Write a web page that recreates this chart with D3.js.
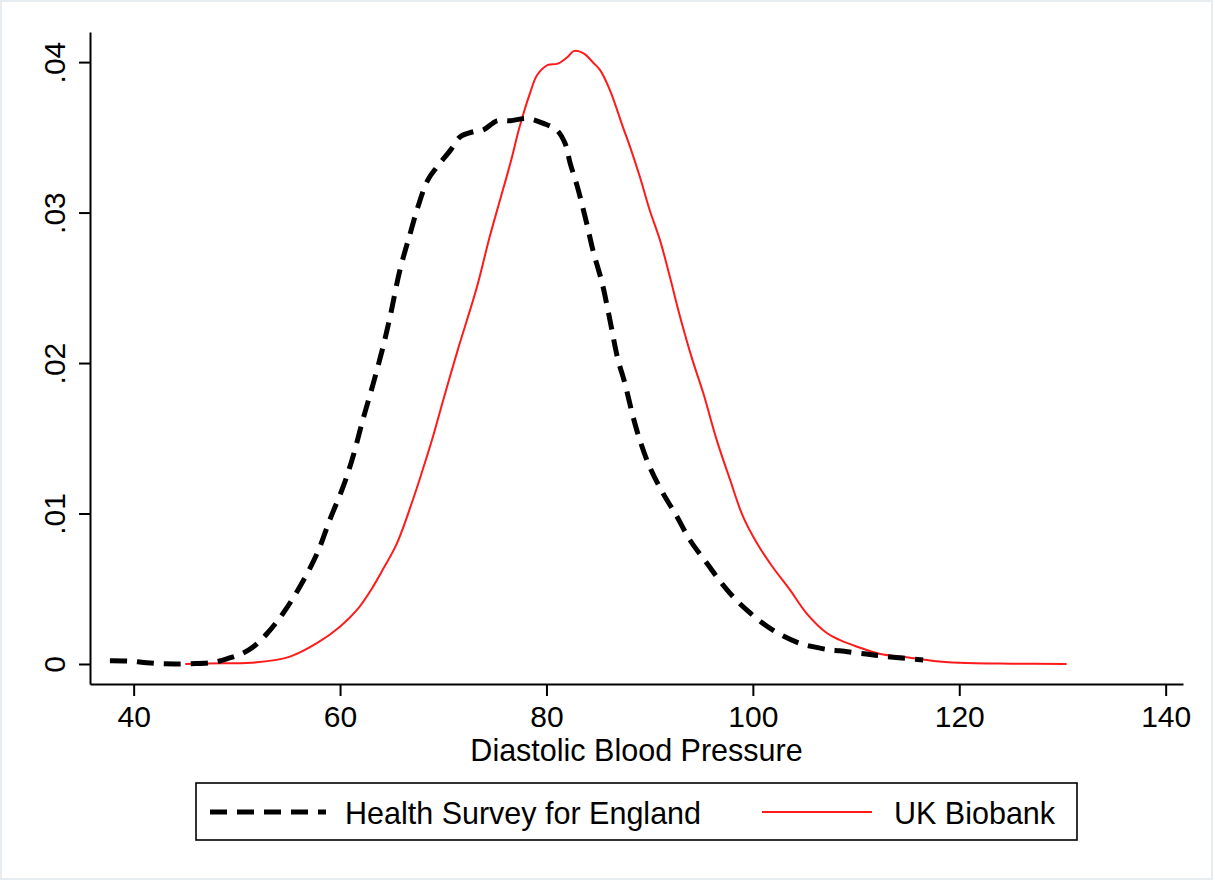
<!DOCTYPE html>
<html>
<head>
<meta charset="utf-8">
<script src="https://cdn.jsdelivr.net/npm/d3@7"></script>
<style>
  html, body { margin: 0; padding: 0; background: #ffffff; }
  svg { display: block; }
  text { font-family: "Liberation Sans", Arial, Helvetica, sans-serif; fill: #000; }
</style>
</head>
<body>
<svg id="chart" width="1215" height="881"></svg>
<script>
// ---- data ----
const seriesNames = ["Health Survey for England", "UK Biobank"];

const hseBP = [37.7, 39.5, 41.0, 42.5, 44.0, 45.5, 47.7, 49.3, 50.6, 51.6, 52.95, 54.5, 56.2, 57.8, 59.0, 60.3, 61.25, 62.2, 63.2, 64.1, 64.85, 65.8, 66.8, 67.55, 68.5, 69.4, 70.7, 71.65, 72.9, 73.85, 75.2, 76.5, 78.1, 79.7, 81.0, 81.8, 82.3, 83.0, 83.9, 84.5, 85.4, 86.15, 86.9, 87.6, 88.4, 89.05, 90.0, 91.3, 92.65, 93.9, 95.55, 97.5, 99.4, 101.9, 104.5, 105.8, 107.5, 108.4, 111.0, 113.6, 116.5];
const hseDensity = [0.00022, 0.0002, 0.0001, 0.00002, 0.0, 0.00002, 0.0001, 0.0004, 0.00073, 0.00115, 0.00204, 0.00339, 0.00525, 0.00738, 0.00957, 0.01178, 0.01377, 0.01621, 0.0186, 0.0209, 0.02308, 0.02618, 0.02862, 0.03039, 0.03216, 0.03304, 0.03415, 0.03504, 0.03537, 0.03548, 0.0361, 0.0361, 0.03626, 0.03593, 0.03548, 0.0346, 0.03327, 0.03171, 0.02928, 0.02751, 0.0253, 0.02286, 0.02031, 0.01865, 0.01641, 0.01488, 0.0131, 0.01134, 0.00979, 0.00824, 0.00669, 0.00492, 0.00359, 0.00226, 0.00138, 0.00115, 0.00093, 0.00088, 0.00066, 0.00045, 0.00027];

const ukbBP = [45.0, 48.65, 51.95, 55.15, 57.75, 59.99, 61.64, 63.2, 64.0, 65.5, 67.05, 68.0, 69.0, 70.0, 71.4, 72.3, 73.27, 74.5, 75.5, 76.5, 77.4, 78.4, 79.1, 80.1, 81.1, 82.07, 82.65, 83.6, 84.6, 85.2, 86.15, 87.4, 88.1, 89.05, 90.0, 91.0, 91.96, 92.9, 94.1, 95.2, 96.5, 97.8, 99.05, 100.4, 101.9, 103.6, 105.2, 107.2, 108.4, 110.1, 112.35, 114.9, 117.5, 120.0, 125.0, 130.4];
const ukbDensity = [0.0, 0.00005, 0.00011, 0.00049, 0.00138, 0.00248, 0.00359, 0.00514, 0.0061, 0.008, 0.0109, 0.01289, 0.0151, 0.01754, 0.02086, 0.02286, 0.02507, 0.02839, 0.03083, 0.03327, 0.0357, 0.03792, 0.03914, 0.0398, 0.0399, 0.04035, 0.04073, 0.04058, 0.03991, 0.03947, 0.03814, 0.0357, 0.03437, 0.03238, 0.03017, 0.02817, 0.02573, 0.0232, 0.02031, 0.01799, 0.01488, 0.01223, 0.00979, 0.00802, 0.00646, 0.00492, 0.00337, 0.00204, 0.0016, 0.00115, 0.00066, 0.00045, 0.0002, 0.00008, 0.00002, 0.0];

const xTicks = [40, 60, 80, 100, 120, 140];
const yTicks = [0, 0.01, 0.02, 0.03, 0.04];
const yTickLabels = ["0", ".01", ".02", ".03", ".04"];
const xTitle = "Diastolic Blood Pressure";

// ---- layout ----
const svg = d3.select("#chart");
const W = 1215, H = 881;

// faint outer frame
svg.append("rect").attr("x", 1).attr("y", 1).attr("width", W - 4).attr("height", H - 3)
  .attr("fill", "#fff").attr("stroke", "#e6ecef").attr("stroke-width", 2);

const x = d3.scaleLinear().domain([35.77, 141.68]).range([90, 1183]);
const y = d3.scaleLinear().domain([-0.00133, 0.0420]).range([684, 32]);

// axes
const xAxis = d3.axisBottom(x).tickValues(xTicks).tickSize(12).tickSizeOuter(0).tickPadding(8);
const gx = svg.append("g").attr("transform", `translate(0,${y.range()[0]})`).call(xAxis);
gx.select(".domain").attr("stroke", "#000").attr("stroke-width", 2);
gx.selectAll(".tick line").attr("stroke", "#000").attr("stroke-width", 2);
gx.selectAll(".tick text").attr("font-size", 30).attr("font-family", "Liberation Sans, Arial, sans-serif")
  .attr("fill", "#000").attr("y", null).attr("dy", null).attr("transform", "translate(0,43)");

const yAxis = d3.axisLeft(y).tickValues(yTicks).tickFormat((d, i) => yTickLabels[i]).tickSize(11).tickSizeOuter(0);
const gy = svg.append("g").attr("transform", `translate(${x.range()[0]},0)`).call(yAxis);
gy.select(".domain").attr("stroke", "#000").attr("stroke-width", 2);
gy.selectAll(".tick line").attr("stroke", "#000").attr("stroke-width", 2);
gy.selectAll(".tick text")
  .attr("font-size", 30).attr("font-family", "Liberation Sans, Arial, sans-serif").attr("fill", "#000")
  .attr("x", null).attr("dy", null).attr("text-anchor", "middle")
  .attr("transform", "translate(-25,0) rotate(-90)");

// x title
svg.append("text")
  .attr("x", (x.range()[0] + x.range()[1]) / 2).attr("y", 760.5)
  .attr("text-anchor", "middle").attr("font-size", 30.5)
  .text(xTitle);

// curves
const line = d3.line().x(d => x(d[0])).y(d => y(d[1])).curve(d3.curveCatmullRom.alpha(0.5));
const hse = hseBP.map((v, i) => [v, hseDensity[i]]);
const ukb = ukbBP.map((v, i) => [v, ukbDensity[i]]);

svg.append("path").datum(ukb).attr("d", line)
  .attr("fill", "none").attr("stroke", "#ff1a1a").attr("stroke-width", 2);
svg.append("path").datum(hse).attr("d", line)
  .attr("fill", "none").attr("stroke", "#000").attr("stroke-width", 5)
  .attr("stroke-dasharray", "17,10");

// legend
const lg = svg.append("g");
lg.append("rect").attr("x", 196).attr("y", 783).attr("width", 881).attr("height", 57)
  .attr("fill", "#fff").attr("stroke", "#000").attr("stroke-width", 1.6);
lg.append("line").attr("x1", 210).attr("x2", 326).attr("y1", 812).attr("y2", 812)
  .attr("stroke", "#000").attr("stroke-width", 5).attr("stroke-dasharray", "17,10");
lg.append("text").attr("x", 345).attr("y", 824).attr("font-size", 30.5).text(seriesNames[0]);
lg.append("line").attr("x1", 762).attr("x2", 872).attr("y1", 812).attr("y2", 812)
  .attr("stroke", "#ff1a1a").attr("stroke-width", 2);
lg.append("text").attr("x", 894).attr("y", 824).attr("font-size", 30.5).text(seriesNames[1]);
</script>
</body>
</html>
